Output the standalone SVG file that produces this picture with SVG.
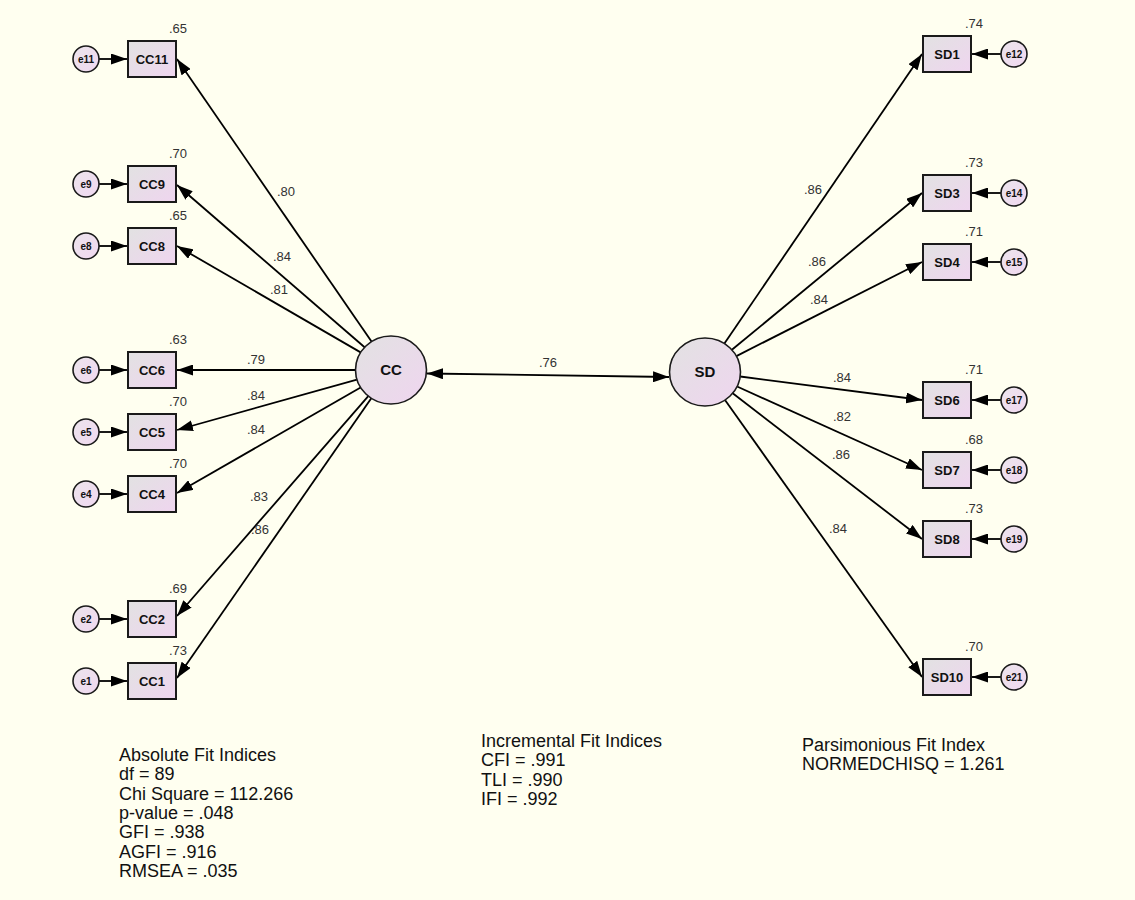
<svg xmlns="http://www.w3.org/2000/svg" width="1135" height="900" viewBox="0 0 1135 900">
<defs>
<linearGradient id="gBox" x1="0" y1="0" x2="1" y2="1">
<stop offset="0" stop-color="#e2e2e2"/>
<stop offset="1" stop-color="#efd5ef"/>
</linearGradient>
<linearGradient id="gErr" x1="0" y1="0" x2="1" y2="1">
<stop offset="0" stop-color="#ece4ec"/>
<stop offset="1" stop-color="#f0d8f0"/>
</linearGradient>
<marker id="ah" markerUnits="userSpaceOnUse" markerWidth="17" markerHeight="11" refX="16" refY="5.5" orient="auto-start-reverse" viewBox="0 0 17 11">
<path d="M0,0 L16,5.5 L0,11 Z" fill="#000"/>
</marker>
<style>
.bg{fill:#fffff0}
.box{fill:url(#gBox);stroke:#1a1a1a;stroke-width:2}
.lat{fill:url(#gBox);stroke:#1a1a1a;stroke-width:1.6}
.err{fill:url(#gErr);stroke:#1a1a1a;stroke-width:1.6}
.ln{stroke:#000;stroke-width:1.8;fill:none;marker-end:url(#ah)}
.cov{stroke:#000;stroke-width:1.8;fill:none;marker-end:url(#ah);marker-start:url(#ah)}
.bt{font-family:"Liberation Sans",Arial,sans-serif;font-weight:bold;font-size:13px;fill:#111;text-anchor:middle}
.lt{font-family:"Liberation Sans",Arial,sans-serif;font-weight:bold;font-size:15px;fill:#111;text-anchor:middle}
.et{font-family:"Liberation Sans",Arial,sans-serif;font-weight:bold;font-size:10px;fill:#111;text-anchor:middle}
.val{font-family:"Liberation Sans",Arial,sans-serif;font-size:13px;fill:#333;text-anchor:middle}
.fit{font-family:"Liberation Sans",Arial,sans-serif;font-size:18px;fill:#111}
</style>
</defs>
<rect class="bg" x="0" y="0" width="1135" height="900"/>

<g id="connectors">
<line class="ln" x1="371.5" y1="341.6" x2="177" y2="59"/>
<line class="ln" x1="364.6" y1="347.2" x2="177" y2="185"/>
<line class="ln" x1="360.6" y1="352.4" x2="177" y2="246"/>
<line class="ln" x1="355.5" y1="370" x2="177" y2="370"/>
<line class="ln" x1="356.9" y1="379.6" x2="177" y2="430"/>
<line class="ln" x1="360.6" y1="387.5" x2="177" y2="493"/>
<line class="ln" x1="368.3" y1="396.1" x2="177" y2="616"/>
<line class="ln" x1="371.3" y1="398.3" x2="177" y2="678"/>
<line class="ln" x1="724.4" y1="343.5" x2="922" y2="54"/>
<line class="ln" x1="731.9" y1="349.8" x2="922" y2="193"/>
<line class="ln" x1="736.4" y1="356.1" x2="922" y2="262"/>
<line class="ln" x1="740.2" y1="376.5" x2="922" y2="400"/>
<line class="ln" x1="737.1" y1="386.5" x2="922" y2="470"/>
<line class="ln" x1="732.7" y1="393.3" x2="922" y2="539"/>
<line class="ln" x1="725" y1="400.1" x2="922" y2="677"/>
<line class="cov" x1="427" y1="373.5" x2="669" y2="377"/>
<line class="ln" x1="99" y1="59" x2="127" y2="59"/>
<line class="ln" x1="99" y1="184" x2="127" y2="184"/>
<line class="ln" x1="99" y1="246" x2="127" y2="246"/>
<line class="ln" x1="99" y1="370" x2="127" y2="370"/>
<line class="ln" x1="99" y1="432" x2="127" y2="432"/>
<line class="ln" x1="99" y1="494" x2="127" y2="494"/>
<line class="ln" x1="99" y1="619" x2="127" y2="619"/>
<line class="ln" x1="99" y1="681" x2="127" y2="681"/>
<line class="ln" x1="1001" y1="54" x2="972" y2="54"/>
<line class="ln" x1="1001" y1="193" x2="972" y2="193"/>
<line class="ln" x1="1001" y1="262" x2="972" y2="262"/>
<line class="ln" x1="1001" y1="400" x2="972" y2="400"/>
<line class="ln" x1="1001" y1="470" x2="972" y2="470"/>
<line class="ln" x1="1001" y1="539" x2="972" y2="539"/>
<line class="ln" x1="1001" y1="677" x2="972" y2="677"/>
</g>

<g id="connector-labels">
<text class="val" x="286" y="196">.80</text>
<text class="val" x="282" y="261">.84</text>
<text class="val" x="279" y="294">.81</text>
<text class="val" x="256" y="364">.79</text>
<text class="val" x="256" y="400">.84</text>
<text class="val" x="256" y="434">.84</text>
<text class="val" x="259" y="501">.83</text>
<text class="val" x="260" y="534">.86</text>
<text class="val" x="813" y="194">.86</text>
<text class="val" x="817" y="266">.86</text>
<text class="val" x="819" y="304">.84</text>
<text class="val" x="842" y="382">.84</text>
<text class="val" x="842" y="421">.82</text>
<text class="val" x="841" y="459">.86</text>
<text class="val" x="838" y="533">.84</text>
<text class="val" x="548" y="367">.76</text>
</g>

<g id="CC"><ellipse class="lat" cx="391" cy="370" rx="35.5" ry="34"/><text class="lt" x="391" y="375">CC</text></g>
<g id="SD"><ellipse class="lat" cx="705" cy="372" rx="35.5" ry="34"/><text class="lt" x="705" y="377">SD</text></g>

<g id="CC11"><rect class="box" x="128" y="41" width="48" height="36"/><text class="bt" x="152" y="64">CC11</text><text class="val" x="178" y="33">.65</text></g>
<g id="CC9"><rect class="box" x="128" y="166" width="48" height="36"/><text class="bt" x="152" y="189">CC9</text><text class="val" x="178" y="158">.70</text></g>
<g id="CC8"><rect class="box" x="128" y="228" width="48" height="36"/><text class="bt" x="152" y="251">CC8</text><text class="val" x="178" y="220">.65</text></g>
<g id="CC6"><rect class="box" x="128" y="352" width="48" height="36"/><text class="bt" x="152" y="375">CC6</text><text class="val" x="178" y="344">.63</text></g>
<g id="CC5"><rect class="box" x="128" y="414" width="48" height="36"/><text class="bt" x="152" y="437">CC5</text><text class="val" x="178" y="406">.70</text></g>
<g id="CC4"><rect class="box" x="128" y="476" width="48" height="36"/><text class="bt" x="152" y="499">CC4</text><text class="val" x="178" y="468">.70</text></g>
<g id="CC2"><rect class="box" x="128" y="601" width="48" height="36"/><text class="bt" x="152" y="624">CC2</text><text class="val" x="178" y="593">.69</text></g>
<g id="CC1"><rect class="box" x="128" y="663" width="48" height="36"/><text class="bt" x="152" y="686">CC1</text><text class="val" x="178" y="655">.73</text></g>

<g id="SD1"><rect class="box" x="923" y="36" width="48" height="36"/><text class="bt" x="947" y="59">SD1</text><text class="val" x="974" y="28">.74</text></g>
<g id="SD3"><rect class="box" x="923" y="175" width="48" height="36"/><text class="bt" x="947" y="198">SD3</text><text class="val" x="974" y="167">.73</text></g>
<g id="SD4"><rect class="box" x="923" y="244" width="48" height="36"/><text class="bt" x="947" y="267">SD4</text><text class="val" x="974" y="236">.71</text></g>
<g id="SD6"><rect class="box" x="923" y="382" width="48" height="36"/><text class="bt" x="947" y="405">SD6</text><text class="val" x="974" y="374">.71</text></g>
<g id="SD7"><rect class="box" x="923" y="452" width="48" height="36"/><text class="bt" x="947" y="475">SD7</text><text class="val" x="974" y="444">.68</text></g>
<g id="SD8"><rect class="box" x="923" y="521" width="48" height="36"/><text class="bt" x="947" y="544">SD8</text><text class="val" x="974" y="513">.73</text></g>
<g id="SD10"><rect class="box" x="923" y="659" width="48" height="36"/><text class="bt" x="947" y="682">SD10</text><text class="val" x="974" y="651">.70</text></g>

<g id="e11"><circle class="err" cx="86" cy="59" r="13"/><text class="et" x="86" y="62.5">e11</text></g>
<g id="e9"><circle class="err" cx="86" cy="184" r="13"/><text class="et" x="86" y="187.5">e9</text></g>
<g id="e8"><circle class="err" cx="86" cy="246" r="13"/><text class="et" x="86" y="249.5">e8</text></g>
<g id="e6"><circle class="err" cx="86" cy="370" r="13"/><text class="et" x="86" y="373.5">e6</text></g>
<g id="e5"><circle class="err" cx="86" cy="432" r="13"/><text class="et" x="86" y="435.5">e5</text></g>
<g id="e4"><circle class="err" cx="86" cy="494" r="13"/><text class="et" x="86" y="497.5">e4</text></g>
<g id="e2"><circle class="err" cx="86" cy="619" r="13"/><text class="et" x="86" y="622.5">e2</text></g>
<g id="e1"><circle class="err" cx="86" cy="681" r="13"/><text class="et" x="86" y="684.5">e1</text></g>
<g id="e12"><circle class="err" cx="1014" cy="54" r="13"/><text class="et" x="1014" y="57.5">e12</text></g>
<g id="e14"><circle class="err" cx="1014" cy="193" r="13"/><text class="et" x="1014" y="196.5">e14</text></g>
<g id="e15"><circle class="err" cx="1014" cy="262" r="13"/><text class="et" x="1014" y="265.5">e15</text></g>
<g id="e17"><circle class="err" cx="1014" cy="400" r="13"/><text class="et" x="1014" y="403.5">e17</text></g>
<g id="e18"><circle class="err" cx="1014" cy="470" r="13"/><text class="et" x="1014" y="473.5">e18</text></g>
<g id="e19"><circle class="err" cx="1014" cy="539" r="13"/><text class="et" x="1014" y="542.5">e19</text></g>
<g id="e21"><circle class="err" cx="1014" cy="677" r="13"/><text class="et" x="1014" y="680.5">e21</text></g>

<g id="fit-absolute">
<text class="fit" x="119" y="761">Absolute Fit Indices</text>
<text class="fit" x="119" y="780.3">df = 89</text>
<text class="fit" x="119" y="799.6">Chi Square = 112.266</text>
<text class="fit" x="119" y="818.9">p-value = .048</text>
<text class="fit" x="119" y="838.2">GFI = .938</text>
<text class="fit" x="119" y="857.5">AGFI = .916</text>
<text class="fit" x="119" y="876.8">RMSEA = .035</text>
</g>
<g id="fit-incremental">
<text class="fit" x="481" y="747">Incremental Fit Indices</text>
<text class="fit" x="481" y="766.3">CFI = .991</text>
<text class="fit" x="481" y="785.6">TLI = .990</text>
<text class="fit" x="481" y="804.9">IFI = .992</text>
</g>
<g id="fit-parsimonious">
<text class="fit" x="802" y="751">Parsimonious Fit Index</text>
<text class="fit" x="802" y="770.3">NORMEDCHISQ = 1.261</text>
</g>
</svg>
